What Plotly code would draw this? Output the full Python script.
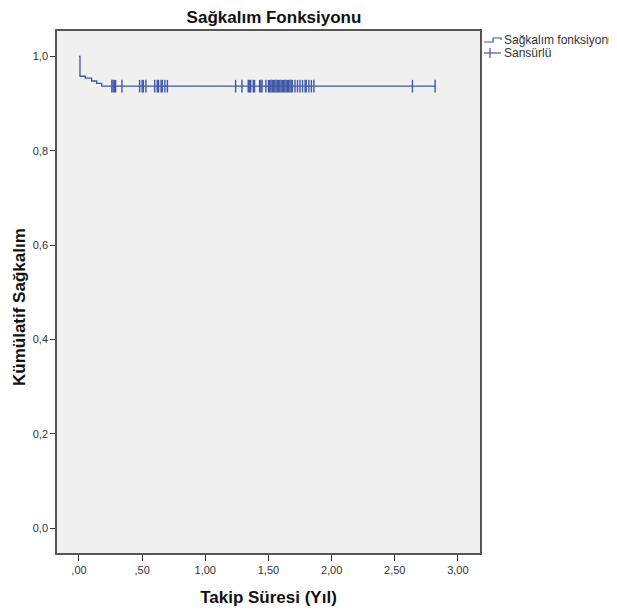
import plotly.graph_objects as go

# Survival step function (time in years, cumulative survival)
surv_time = [0.0, 0.008, 0.05, 0.10, 0.14, 0.18, 2.82]
surv_prob = [1.0, 0.958, 0.954, 0.948, 0.943, 0.937, 0.937]

# Censored observations (times)
cens_time = [0.26, 0.27, 0.28, 0.29, 0.34, 0.48, 0.50, 0.51, 0.53,
             0.60, 0.62, 0.63, 0.65, 0.66, 0.68, 0.70,
             1.24, 1.29, 1.34, 1.35, 1.36, 1.38, 1.39, 1.43, 1.44, 1.45,
             1.48, 1.50, 1.51, 1.52, 1.53, 1.54, 1.55, 1.56, 1.57, 1.58,
             1.59, 1.60, 1.61, 1.62, 1.63, 1.64, 1.65, 1.66, 1.67, 1.68, 1.69,
             1.71, 1.73, 1.75, 1.77, 1.79, 1.80, 1.82, 1.84, 1.86,
             2.64, 2.82]
cens_prob = [0.937] * len(cens_time)

x_ticks = [0.0, 0.5, 1.0, 1.5, 2.0, 2.5, 3.0]
x_labels = [",00", ",50", "1,00", "1,50", "2,00", "2,50", "3,00"]
y_ticks = [0.0, 0.2, 0.4, 0.6, 0.8, 1.0]
y_labels = ["0,0", "0,2", "0,4", "0,6", "0,8", "1,0"]
legend_labels = ["Sağkalım fonksiyonu", "Sansürlü"]

blue = "#3f57a9"
font = "Liberation Sans, Arial, sans-serif"

# page body has an 8px margin; figure is sized/positioned to compensate
W, H = 609, 604
L, R, T, B = 49, 137, 23, 59
PW, PH = W - L - R, H - T - B


def px(x):
    return (x - L) / PW


def py(y):
    return (H - B - y) / PH


fig = go.Figure()
fig.add_trace(go.Scatter(
    x=surv_time, y=surv_prob, mode="lines", line=dict(color=blue, width=1.3, shape="hv"),
    name=legend_labels[0], showlegend=False))
fig.add_trace(go.Scatter(
    x=cens_time, y=cens_prob, mode="markers",
    marker=dict(symbol="line-ns", size=9, line=dict(color=blue, width=1.4)),
    name=legend_labels[1], showlegend=False))

# manual legend (symbols as shapes, labels as text)
lw = dict(color=blue, width=1.2)
fig.add_shape(type="path", xref="paper", yref="paper", line=lw,
              path=f"M {px(476)},{py(34)} L {px(485)},{py(34)} L {px(485)},{py(30)} "
                   f"L {px(493)},{py(30)} L {px(493)},{py(32)}")
fig.add_shape(type="line", xref="paper", yref="paper", line=lw,
              x0=px(476), x1=px(493), y0=py(45), y1=py(45))
fig.add_shape(type="line", xref="paper", yref="paper", line=lw,
              x0=px(482), x1=px(482), y0=py(40), y1=py(50))
fig.add_annotation(text=legend_labels[0], xref="paper", yref="paper", x=px(494), y=py(32),
                   xanchor="left", yanchor="middle", showarrow=False,
                   font=dict(size=12, color="#333333"))
fig.add_annotation(text=legend_labels[1], xref="paper", yref="paper", x=px(494), y=py(45),
                   xanchor="left", yanchor="middle", showarrow=False,
                   font=dict(size=12, color="#333333"))

# y axis title placed as in the reference (slightly below plot centre)
fig.add_annotation(text="<b>Kümülatif Sağkalım</b>", xref="paper", yref="paper",
                   x=px(11), y=py(299), xanchor="center", yanchor="middle", textangle=-90,
                   showarrow=False, font=dict(size=17, color="#111111"))

fig.update_layout(
    width=W, height=H,
    margin=dict(l=L, r=R, t=T, b=B, autoexpand=False),
    paper_bgcolor="white", plot_bgcolor="#f0f0f0",
    font=dict(family=font, color="#333333"),
    showlegend=False,
    title=dict(text="<b>Sağkalım Fonksiyonu</b>", xref="paper", x=px(266), xanchor="center",
               yref="container", y=1 - 9.5 / H, yanchor="middle", font=dict(size=17, color="#111111")),
    xaxis=dict(range=[-0.174, 3.175], tickvals=x_ticks, ticktext=x_labels, automargin=False,
               ticks="outside", ticklen=6, tickcolor="#333333", showgrid=False, zeroline=False,
               showline=True, linecolor="#555555", linewidth=1.5, mirror=True,
               tickfont=dict(size=11, color="#333333"),
               title=dict(text="<b>Takip Süresi (Yıl)</b>", font=dict(size=17, color="#111111"), standoff=16)),
    yaxis=dict(range=[-0.053, 1.054], tickvals=y_ticks, ticktext=y_labels, automargin=False,
               ticks="outside", ticklen=5, tickcolor="#333333", showgrid=False, zeroline=False,
               showline=True, linecolor="#555555", linewidth=1.5, mirror=True,
               tickfont=dict(size=11, color="#333333")),
)

fig.write_html("out.html")
